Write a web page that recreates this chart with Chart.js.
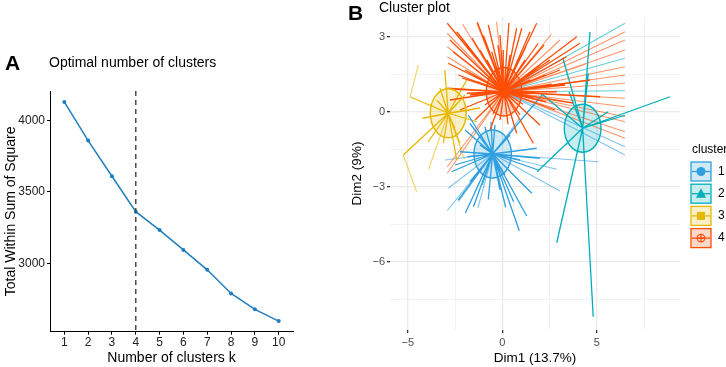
<!DOCTYPE html>
<html><head><meta charset="utf-8">
<script src="https://cdn.jsdelivr.net/npm/chart.js@4.4.0/dist/chart.umd.min.js"></script>
<style>
html,body{margin:0;padding:0;background:#fff;width:726px;height:367px;overflow:hidden}
#wa{position:absolute;left:0;top:0;width:345px;height:367px}
#wb{position:absolute;left:340px;top:0;width:386px;height:367px}
</style></head><body>
<div id="wa"><canvas id="ca" width="345" height="367"></canvas></div>
<div id="wb"><canvas id="cb" width="386" height="367"></canvas></div>
<script>
// ---------- Panel A data ----------
const kValues = [1,2,3,4,5,6,7,8,9,10];
const wssValues = [4128,3858,3609,3362,3233,3095,2956,2791,2680,2598];
const optimalK = 4;
const yTicksA = [3000,3500,4000];

// ---------- Panel B data ----------
const clusterLabels = ['1','2','3','4'];
const clusterColors = ['#2E9FDF','#00AFBB','#E7B800','#FC4E07'];
const centerX = [-0.51, 4.25, -2.86, 0.09];
const centerY = [-1.69, -0.66, -0.06, 0.80];
const ellipseRx = [0.99, 0.97, 0.95, 0.94];
const ellipseRy = [0.96, 0.96, 0.98, 0.97];

// star endpoints (solid) per cluster
const star1 = [[-1.97,-0.73],[-1.71,-0.47],[-0.92,-0.60],[-1.80,-0.13],[-2.24,-1.60],[-1.85,-1.80],[-2.68,-2.40],[-1.71,-2.80],[-1.44,-3.20],[-2.33,-3.53],[-1.53,-3.80],[-0.74,-3.50],[0.18,-3.82],[0.90,-4.76],[1.29,-4.17],[1.56,-3.26],[1.99,-1.86],[1.90,-2.33],[1.82,-1.46],[2.14,0.71],[0.41,-0.93],[-0.12,-3.13],[-1.07,-2.93],[-0.39,-0.53],[0.94,-1.93],[-1.18,-1.33],[0.14,-2.53],[-2.51,-2.13],[-0.60,-0.40],[0.60,-3.60],[-1.95,-4.05]];
const star2 = [[8.87,0.60],[4.64,3.19],[3.20,2.16],[4.81,-8.20],[2.88,-5.24],[1.84,-2.40],[2.10,0.71],[4.55,1.54],[3.53,0.80],[6.49,-0.14],[5.60,0.00]];
const star3 = [[-4.88,0.60],[-4.21,-0.26],[-5.24,-1.73],[-2.24,-1.26],[-2.41,-1.93],[-3.12,-1.26],[-3.92,-1.20],[-1.88,1.27],[-1.35,-0.40],[-1.97,0.67],[-3.30,0.95],[-3.83,0.27],[-2.52,-0.65],[-1.71,0.07],[-3.46,0.47],[-3.04,1.67],[-1.18,0.15]];
const star4 = [[-2.91,3.54],[-2.77,2.87],[-2.86,1.94],[-2.33,1.47],[-2.41,3.20],[-1.32,3.58],[-0.74,3.47],[-0.56,2.40],[-0.12,3.07],[0.05,2.47],[0.76,3.34],[1.03,3.34],[1.47,3.20],[1.82,3.54],[1.90,2.74],[1.99,1.87],[-1.88,0.74],[-2.91,0.94],[-2.77,0.47],[-2.24,0.07],[-1.97,1.67],[-1.18,2.47],[-1.60,2.95],[-0.81,2.07],[-0.23,2.67],[0.41,2.27],[1.20,2.07],[2.26,1.47],[2.88,0.80],[4.11,2.74],[3.94,3.00],[2.21,2.67],[5.17,0.60],[3.74,0.35],[1.64,-1.26],[0.76,-0.86],[-0.65,-0.73],[-1.44,-0.33],[0.94,-0.13],[-1.71,0.67],[1.47,1.27],[3.05,1.67],[3.32,1.07],[2.79,0.07],[1.99,-0.53],[-0.12,-0.33],[-0.92,0.27],[-2.13,1.35],[4.64,1.27],[2.52,2.07],[0.67,1.47],[-0.39,1.67],[-2.60,2.40],[-2.05,2.75],[-1.00,3.05],[0.35,3.55],[1.25,2.60],[2.60,1.10],[3.40,2.20],[2.30,0.40],[-1.30,1.20],[-2.50,0.90],[0.30,-0.50],[1.10,0.30],[-0.50,-0.10],[1.60,0.60]];

// faint segments [x0,y0,x1,y1] per colour
const faint1 = [[-0.51,-1.69,-2.91,-3.96],[-0.51,-1.69,-2.33,-3.60],[0.09,0.80,6.49,-1.40],[0.09,0.80,6.49,-1.73],[-0.51,-1.69,5.08,-2.00],[-0.51,-1.69,2.88,-2.30],[-0.51,-1.69,3.05,-3.17],[-0.51,-1.69,-3.03,-1.93],[-0.51,-1.69,-2.86,-3.06],[-0.51,-1.69,-1.29,-3.85],[-0.51,-1.69,0.94,-0.25]];
const faint2 = [[0.09,0.80,6.49,3.54],[0.09,0.80,6.49,2.14],[0.09,0.80,6.49,0.84]];
const faint3 = [[-4.88,0.60,-4.44,1.87],[-5.24,-1.73,-4.53,-3.20],[-2.86,-0.06,-3.90,-2.30],[-2.86,-0.06,-2.00,-1.90]];
const faint4 = [[0.09,0.80,6.49,3.20],[0.09,0.80,6.49,2.87],[0.09,0.80,6.49,2.47],[0.09,0.80,6.49,1.80],[0.09,0.80,6.49,1.47],[0.09,0.80,6.49,1.14],[0.09,0.80,6.49,0.54],[0.09,0.80,6.49,0.20],[0.09,0.80,6.49,-0.20],[0.09,0.80,6.49,-0.40],[0.09,0.80,6.49,-0.80],[0.09,0.80,6.49,-1.06],[0.09,0.80,-2.91,-2.46],[0.09,0.80,-2.91,-2.20],[0.09,0.80,-2.91,3.14],[0.09,0.80,-2.91,2.60],[0.09,0.80,-2.91,2.20],[0.09,0.80,-1.35,3.54],[0.09,0.80,3.05,2.87],[0.09,0.80,-2.10,3.50],[0.09,0.80,-0.30,3.60],[0.09,0.80,2.60,3.10],[0.09,0.80,4.40,1.90]];

const xTicksB = [-5,-2.5,0,2.5,5,7.5];
const xMajorB = [-5,0,5];
const yTicksB = [-7.5,-6,-4.5,-3,-1.5,0,1.5,3];
const yMajorB = [-6,-3,0,3];

Chart.defaults.font.family = "'Liberation Sans', Arial, sans-serif";

function rgba(hex, a){
  const n = parseInt(hex.slice(1),16);
  return 'rgba(' + ((n>>16)&255) + ',' + ((n>>8)&255) + ',' + (n&255) + ',' + a + ')';
}
function minusFmt(v){ return v < 0 ? '\u2212' + Math.abs(v) : String(v); }

// ---------- Panel A ----------
const panelAText = {
  id: 'panelAText',
  afterDatasetsDraw(chart){
    const ctx = chart.ctx, xs = chart.scales.x, a = chart.chartArea;
    const px = xs.getPixelForValue(optimalK);
    ctx.save();
    ctx.strokeStyle = '#4a4a4a'; ctx.lineWidth = 1.5; ctx.setLineDash([5,4]);
    ctx.beginPath(); ctx.moveTo(px, a.top); ctx.lineTo(px, a.bottom); ctx.stroke();
    ctx.restore();
  },
  afterDraw(chart){
    const ctx = chart.ctx;
    ctx.save();
    ctx.fillStyle = '#000'; ctx.textBaseline = 'middle';
    ctx.font = "bold 21px 'Liberation Sans', Arial, sans-serif";
    ctx.fillText('A', 5, 64);
    ctx.font = "14px 'Liberation Sans', Arial, sans-serif";
    ctx.fillText('Optimal number of clusters', 49, 63);
    ctx.restore();
  }
};

new Chart(document.getElementById('ca'), {
  type: 'line',
  data: { datasets: [{
    data: kValues.map((k,i)=>({x:k, y:wssValues[i]})),
    borderColor: '#1F7EC0', backgroundColor: '#1F7EC0',
    borderWidth: 1.5, pointRadius: 2, pointBorderWidth: 0, tension: 0
  }]},
  options: {
    responsive: false, animation: false,
    layout: { padding: { top: 91, right: 52, left: 0, bottom: 0 } },
    plugins: { legend: { display: false }, tooltip: { enabled: false } },
    scales: {
      x: {
        type: 'linear', min: 0.4, max: 10.6,
        afterBuildTicks: s => { s.ticks = kValues.map(v=>({value:v})); },
        afterFit: s => { s.height = 35.3; },
        grid: { drawOnChartArea: false, tickLength: 3, tickColor: '#000' },
        border: { color: '#000', width: 1 },
        ticks: { font: { size: 12 }, color: '#222', padding: 1, autoSkip: false, maxRotation: 0, callback: v => String(v) },
        title: { display: true, text: 'Number of clusters k', font: { size: 14 }, color: '#000', padding: { top: 0, bottom: 0 } }
      },
      y: {
        min: 2524, max: 4204,
        afterBuildTicks: s => { s.ticks = yTicksA.map(v=>({value:v})); },
        afterFit: s => { s.width = 50; },
        grid: { drawOnChartArea: false, tickLength: 3, tickColor: '#000' },
        border: { color: '#000', width: 1 },
        ticks: { font: { size: 12 }, color: '#222', padding: 2, callback: v => String(v) },
        title: { display: true, text: 'Total Within Sum of Square', font: { size: 14 }, color: '#000', padding: { top: 3, bottom: 0 } }
      }
    }
  },
  plugins: [panelAText]
});

// ---------- Panel B ----------
function starData(ci, pts){
  const d = [];
  pts.forEach(p => { d.push({x:centerX[ci], y:centerY[ci]}, {x:p[0], y:p[1]}, {x:p[0], y:null}); });
  return d;
}
function segData(segs){
  const d = [];
  segs.forEach(s => { d.push({x:s[0], y:s[1]}, {x:s[2], y:s[3]}, {x:s[2], y:null}); });
  return d;
}
const stars = [star1, star2, star3, star4];
const faints = [faint1, faint2, faint3, faint4];
const datasetsB = [];
[3,1,0,2].forEach(ci => {
  datasetsB.push({ label: clusterLabels[ci], data: starData(ci, stars[ci]), showLine: true, spanGaps: false,
    borderColor: clusterColors[ci], borderWidth: 1.3, pointRadius: 0 });
});
[3,1,0,2].forEach(ci => {
  datasetsB.push({ label: clusterLabels[ci] + 'f', data: segData(faints[ci]), showLine: true, spanGaps: false,
    borderColor: rgba(clusterColors[ci], 0.6), borderWidth: 1.1, pointRadius: 0 });
});

const panelBDecor = {
  id: 'panelBDecor',
  beforeDatasetsDraw(chart){
    const ctx = chart.ctx, xs = chart.scales.x, ys = chart.scales.y;
    ctx.save();
    for (let i = 0; i < 4; i++){
      const cx = xs.getPixelForValue(centerX[i]), cy = ys.getPixelForValue(centerY[i]);
      const rx = Math.abs(xs.getPixelForValue(centerX[i] + ellipseRx[i]) - cx);
      const ry = Math.abs(ys.getPixelForValue(centerY[i] + ellipseRy[i]) - cy);
      ctx.beginPath(); ctx.ellipse(cx, cy, rx, ry, 0, 0, Math.PI*2);
      ctx.fillStyle = rgba(clusterColors[i], 0.22); ctx.fill();
    }
    ctx.restore();
  },
  afterDatasetsDraw(chart){
    const ctx = chart.ctx, xs = chart.scales.x, ys = chart.scales.y;
    ctx.save();
    for (let i = 0; i < 4; i++){
      const cx = xs.getPixelForValue(centerX[i]), cy = ys.getPixelForValue(centerY[i]);
      const rx = Math.abs(xs.getPixelForValue(centerX[i] + ellipseRx[i]) - cx);
      const ry = Math.abs(ys.getPixelForValue(centerY[i] + ellipseRy[i]) - cy);
      ctx.beginPath(); ctx.ellipse(cx, cy, rx, ry, 0, 0, Math.PI*2);
      ctx.strokeStyle = clusterColors[i]; ctx.lineWidth = 1.4; ctx.stroke();
    }
    ctx.restore();
  },
  afterDraw(chart){
    const ctx = chart.ctx;
    ctx.save();
    ctx.fillStyle = '#000'; ctx.textBaseline = 'middle';
    ctx.font = "bold 21px 'Liberation Sans', Arial, sans-serif";
    ctx.fillText('B', 8, 14);
    ctx.font = "14px 'Liberation Sans', Arial, sans-serif";
    ctx.fillText('Cluster plot', 39, 8);
    // legend
    ctx.font = "12px 'Liberation Sans', Arial, sans-serif";
    ctx.fillText('cluster', 352, 150);
    for (let i = 0; i < 4; i++){
      const top = 162 + i*22.2, left = 351, w = 20, h = 19, my = top + h/2, mx = left + w/2;
      const col = clusterColors[i];
      ctx.fillStyle = rgba(col, 0.22); ctx.fillRect(left, top, w, h);
      ctx.strokeStyle = col; ctx.lineWidth = 1.3; ctx.strokeRect(left, top, w, h);
      ctx.beginPath(); ctx.moveTo(left+1, my); ctx.lineTo(left+w-1, my); ctx.stroke();
      ctx.fillStyle = col;
      ctx.beginPath();
      if (i === 0){ ctx.arc(mx, my, 4.5, 0, Math.PI*2); ctx.fill(); }
      else if (i === 1){ ctx.moveTo(mx, my-5.5); ctx.lineTo(mx+5, my+4); ctx.lineTo(mx-5, my+4); ctx.closePath(); ctx.fill(); }
      else if (i === 2){ ctx.rect(mx-4, my-4, 8, 8); ctx.fill(); }
      else {
        ctx.arc(mx, my, 3.8, 0, Math.PI*2); ctx.lineWidth = 1.2; ctx.stroke();
        ctx.beginPath(); ctx.moveTo(mx, my-3.8); ctx.lineTo(mx, my+3.8); ctx.moveTo(mx-3.8, my); ctx.lineTo(mx+3.8, my); ctx.stroke();
      }
      ctx.fillStyle = '#000';
      ctx.font = "12px 'Liberation Sans', Arial, sans-serif";
      ctx.fillText(clusterLabels[i], 378, my);
    }
    ctx.restore();
  }
};

new Chart(document.getElementById('cb'), {
  type: 'scatter',
  data: { datasets: datasetsB },
  options: {
    responsive: false, animation: false,
    layout: { padding: { top: 17, right: 46, left: 5, bottom: 0 } },
    plugins: { legend: { display: false }, tooltip: { enabled: false } },
    scales: {
      x: {
        type: 'linear', min: -5.94, max: 9.4,
        afterBuildTicks: s => { s.ticks = xTicksB.map(v=>({value:v})); },
        afterFit: s => { s.height = 37; },
        grid: {
          color: '#EBEBEB',
          lineWidth: c => xMajorB.includes(c.tick.value) ? 1.3 : 0.6,
          tickColor: c => xMajorB.includes(c.tick.value) ? '#333' : 'rgba(0,0,0,0)',
          tickLength: 3
        },
        border: { display: false },
        ticks: { font: { size: 11 }, color: '#4D4D4D', padding: 3, autoSkip: false, maxRotation: 0,
          callback: v => xMajorB.includes(v) ? minusFmt(v) : '' },
        title: { display: true, text: 'Dim1 (13.7%)', font: { size: 13.5 }, color: '#000', padding: { top: 0, bottom: 1 } }
      },
      y: {
        min: -8.73, max: 3.79,
        afterBuildTicks: s => { s.ticks = yTicksB.map(v=>({value:v})); },
        afterFit: s => { s.width = 45; },
        grid: {
          color: '#EBEBEB',
          lineWidth: c => yMajorB.includes(c.tick.value) ? 1.3 : 0.6,
          tickColor: c => yMajorB.includes(c.tick.value) ? '#333' : 'rgba(0,0,0,0)',
          tickLength: 3
        },
        border: { display: false },
        ticks: { font: { size: 11 }, color: '#4D4D4D', padding: 2, autoSkip: false,
          callback: v => yMajorB.includes(v) ? minusFmt(v) : '' },
        title: { display: true, text: 'Dim2 (9%)', font: { size: 13.5 }, color: '#000', padding: { top: 4, bottom: 0 } }
      }
    }
  },
  plugins: [panelBDecor]
});
</script>
</body></html>
